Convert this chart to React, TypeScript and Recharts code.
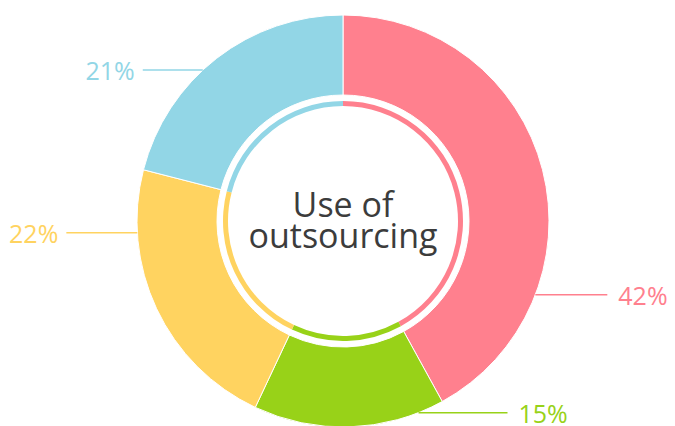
import { PieChart, Pie, Cell } from 'recharts';

const segments = ['Segment A', 'Segment B', 'Segment C', 'Segment D'];
const shares = [42, 15, 22, 21];
const colors = ['#FF808E', '#98D218', '#FFD360', '#92D6E6'];
const titleLines = ['Use of', 'outsourcing'];

// where each callout leaves the ring (deg, ccw from east) and how long its leader is
const LABEL_ANGLE = [-21, -68.5, -176.7, 132.9];
const LEADER_LEN = [72, 89, 71, 60];

const data = segments.map((name, i) => ({ name, value: shares[i] }));

const FONT = '"Open Sans", sans-serif';

const renderLabel = (props: any) => {
  const { cx, cy, outerRadius, index } = props;
  const a = (LABEL_ANGLE[index] * Math.PI) / 180;
  const sx = cx + outerRadius * Math.cos(a);
  const sy = cy - outerRadius * Math.sin(a);
  const right = Math.cos(a) >= 0;
  const ex = sx + (right ? 1 : -1) * LEADER_LEN[index];
  const color = colors[index];
  return (
    <g key={`lbl-${index}`}>
      <line x1={sx} y1={sy} x2={ex} y2={sy} stroke={color} strokeWidth={1.5} />
      <text
        x={ex + (right ? 11 : -8)}
        y={sy}
        fill={color}
        fontSize={25}
        fontFamily={FONT}
        textAnchor={right ? 'start' : 'end'}
        dominantBaseline="central"
      >
        {shares[index]}%
      </text>
    </g>
  );
};

export default function App() {
  return (
    <div style={{ position: 'absolute', left: 0, top: 0, width: 675, height: 426, background: '#fff', overflow: 'hidden' }}>
      <PieChart width={675} height={426} margin={{ top: 0, right: 0, bottom: 0, left: 0 }}>
        <Pie
          data={data}
          dataKey="value"
          cx={343}
          cy={221}
          innerRadius={126}
          outerRadius={206}
          startAngle={90}
          endAngle={-270}
          stroke="#fff"
          strokeWidth={1}
          label={renderLabel}
          labelLine={false}
          isAnimationActive={false}
        >
          {data.map((d, i) => (
            <Cell key={d.name} fill={colors[i]} />
          ))}
        </Pie>
        <Pie
          data={data}
          dataKey="value"
          cx={343}
          cy={221}
          innerRadius={115}
          outerRadius={120}
          startAngle={90}
          endAngle={-270}
          stroke="none"
          isAnimationActive={false}
        >
          {data.map((d, i) => (
            <Cell key={d.name} fill={colors[i]} />
          ))}
        </Pie>
      </PieChart>
      {titleLines.map((t, i) => (
        <div
          key={t}
          style={{
            position: 'absolute',
            left: 193,
            top: 189 + i * 31,
            width: 300,
            height: 30,
            textAlign: 'center',
            fontFamily: FONT,
            fontSize: 34,
            lineHeight: '30px',
            color: '#3c3c3c',
          }}
        >
          {t}
        </div>
      ))}
    </div>
  );
}
